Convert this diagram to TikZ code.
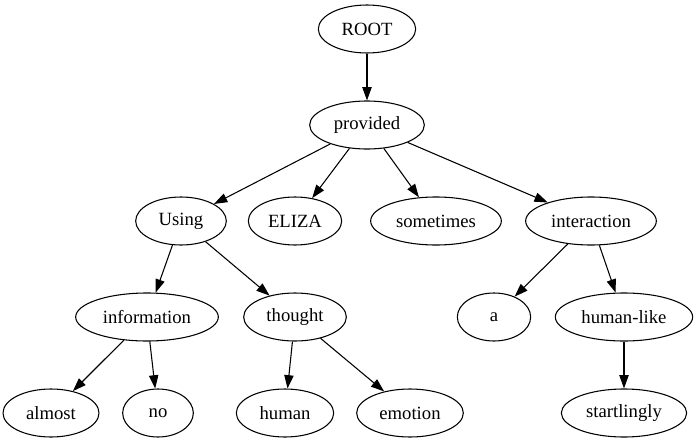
\documentclass[tikz,border=0pt]{standalone}
\usepackage{fontspec}
\setmainfont{Liberation Serif}
\usetikzlibrary{arrows.meta,shapes.geometric}

\tikzset{
  word/.style={draw,ellipse,inner sep=0pt,minimum height=36pt,line width=0.8pt},
  dep/.style={line width=0.8pt,-{Triangle[length=10pt,width=7pt]}}
}

\begin{document}
\begin{tikzpicture}[x=0.75pt,y=-0.75pt, every node/.style={font=\fontsize{14}{16}\selectfont}]
\useasboundingbox (0,0) rectangle (697,443);
% rank 0 and 1
\node[word,minimum width=73pt] (root) at (367,29) {ROOT};
\node[word,minimum width=86pt] (provided) at (367,125) {provided};
% rank 2
\node[word,minimum width=68pt] (using) at (181,221) {Using};
\node[word,minimum width=70pt] (eliza) at (295,221) {ELIZA};
\node[word,minimum width=98pt] (sometimes) at (436,221) {sometimes};
\node[word,minimum width=98pt] (interaction) at (591,221) {interaction};
% rank 3
\node[word,minimum width=107pt] (information) at (147,317) {information};
\node[word,minimum width=77pt] (thought) at (295,317) {thought};
\node[word,minimum width=55pt] (a) at (494,317) {a};
\node[word,minimum width=103pt] (humanlike) at (624,317) {human-like};
% rank 4
\node[word,minimum width=72pt] (almost) at (51,413) {almost};
\node[word,minimum width=53pt] (no) at (158,413) {no};
\node[word,minimum width=73pt] (human) at (285,413) {human};
\node[word,minimum width=80pt] (emotion) at (410,413) {emotion};
\node[word,minimum width=94pt] (startlingly) at (624,413) {startlingly};

\draw[dep] (root) -- (provided);
\draw[dep] (provided) -- (using);
\draw[dep] (provided) -- (eliza);
\draw[dep] (provided) -- (sometimes);
\draw[dep] (provided) -- (interaction);
\draw[dep] (using) -- (information);
\draw[dep] (using) -- (thought);
\draw[dep] (information) -- (almost);
\draw[dep] (information) -- (no);
\draw[dep] (thought) -- (human);
\draw[dep] (thought) -- (emotion);
\draw[dep] (interaction) -- (a);
\draw[dep] (interaction) -- (humanlike);
\draw[dep] (humanlike) -- (startlingly);
\end{tikzpicture}
\end{document}
